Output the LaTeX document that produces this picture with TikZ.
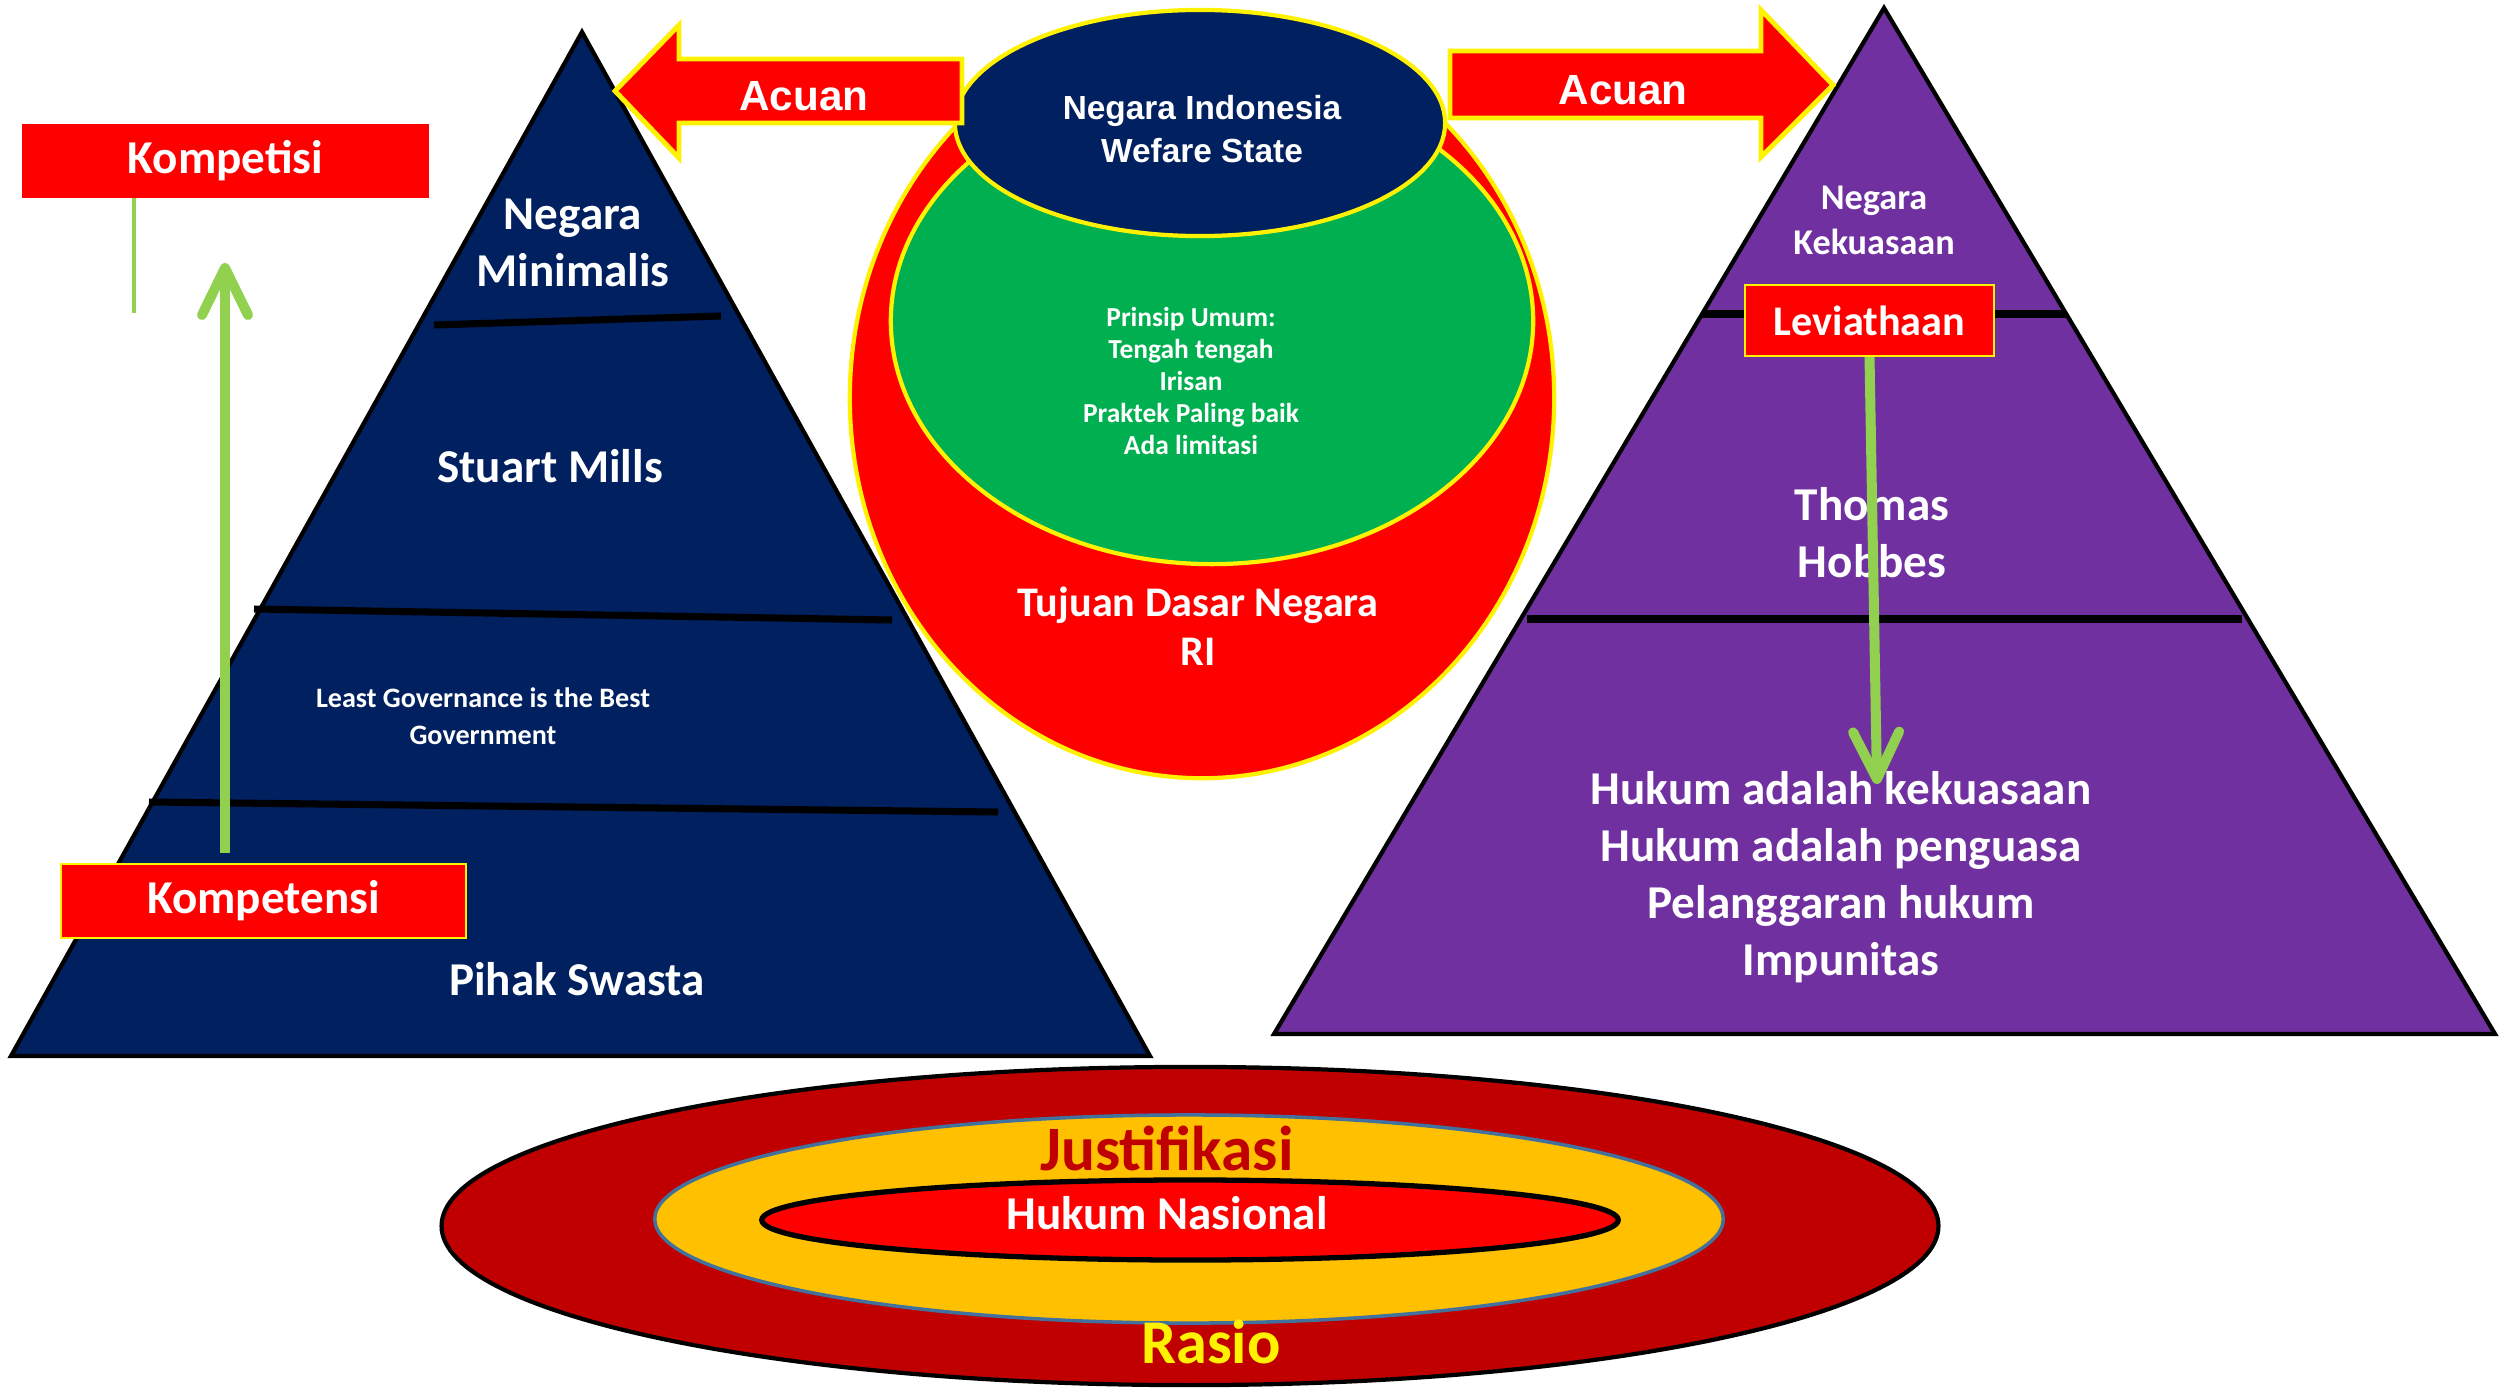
\documentclass[tikz,border=0pt]{standalone}
\usepackage{fontspec}
\setmainfont{Carlito}
\newfontfamily\arialfont{Liberation Sans}
\usepackage{xcolor}
\usepackage{tikz}
\usetikzlibrary{arrows.meta, positioning, calc}

\definecolor{navyfill}{HTML}{002060}
\definecolor{purplefill}{HTML}{7030A0}
\definecolor{greenfill}{HTML}{00B050}
\definecolor{limeline}{HTML}{92D050}
\definecolor{darkredfill}{HTML}{C00000}
\definecolor{goldfill}{HTML}{FFC000}
\definecolor{steelline}{HTML}{41719C}

\begin{document}
\begin{tikzpicture}[
    x=0.01cm, y=-0.01cm,
    big/.style={text=white, font=\fontsize{13.4}{16.2}\selectfont\bfseries, align=center},
    small/.style={text=white, font=\fontsize{8}{10.5}\selectfont\bfseries, align=center},
    tag/.style={fill=red, draw=yellow, line width=0.6pt, inner sep=0pt, minimum height=0.74cm, text=white, font=\fontsize{13.4}{16}\selectfont\bfseries},
    acuan/.style={fill=red, draw=yellow, line width=1.4pt, line join=miter},
    acuantext/.style={text=white, font=\arialfont\bfseries\fontsize{12}{14}\selectfont},
    layer/.style={black, line width=2pt},
    rim/.style={draw=yellow, line width=1.2pt},
    lift/.style={-{Straight Barb[length=4.7mm, width=4.6mm, round]}, limeline, line width=1mm}
]
\useasboundingbox (0,0) rectangle (2501,1388);

% left pyramid
\filldraw[fill=navyfill, draw=black, line width=1.2pt] (582,32) -- (1150,1056) -- (11,1056) -- cycle;
\draw[layer] (434,325) -- (721,316);
\draw[layer] (254,609) -- (892,620);
\draw[layer] (149,802) -- (998,812);
\node[big] (minimalis) at (573,243) {Negara\\Minimalis};
\node[big] (mills) at (550,466) {Stuart Mills};
\node[small] (least) at (483,716) {Least Governance is the Best\\Government};
\node[big] (swasta) at (577,979) {Pihak Swasta};

% right pyramid
\filldraw[fill=purplefill, draw=black, line width=1.2pt] (1884,8) -- (2495,1034) -- (1274,1034) -- cycle;
\draw[layer] (1702,314) -- (2066,314);
\draw[layer] (1527,619) -- (2242,619);
\node[big, font=\fontsize{10.3}{12.8}\selectfont\bfseries] (kekuasaan) at (1874,220) {Negara\\Kekuasaan};
\node[big] (hobbes) at (1872,533) {Thomas\\Hobbes};
\node[big] (hukum) at (1841,877) {Hukum adalah kekuasaan\\Hukum adalah penguasa\\Pelanggaran hukum\\Impunitas};

% centre
\filldraw[fill=red, rim] (1202,398) ellipse [x radius=3.52cm, y radius=3.8cm];
\filldraw[fill=greenfill, rim] (1212,321) ellipse [x radius=3.21cm, y radius=2.43cm];
\filldraw[fill=navyfill, rim] (1200,123) ellipse [x radius=2.45cm, y radius=1.13cm];
\node[text=white, font=\arialfont\bfseries\fontsize{9.5}{12.2}\selectfont, align=center] (welfare) at (1202,129) {Negara Indonesia\\Wefare State};
\node[text=white, font=\fontsize{7.8}{9.1}\selectfont\bfseries, align=center] (prinsip) at (1191,381) {Prinsip Umum:\\Tengah tengah\\Irisan\\Praktek Paling baik\\Ada limitasi};
\node[big, font=\fontsize{12}{14}\selectfont\bfseries] (tujuan) at (1198,626) {Tujuan Dasar Negara\\RI};

\filldraw[acuan] (615,91) -- (679,25) -- (679,59) -- (962,59) -- (962,123) -- (679,123) -- (679,158) -- cycle;
\node[acuantext] (acuanleft) at (804,96) {Acuan};
\filldraw[acuan] (1833,85) -- (1761,10) -- (1761,51) -- (1450,51) -- (1450,118) -- (1761,118) -- (1761,157) -- cycle;
\node[acuantext] (acuanright) at (1623,90) {Acuan};

% tags and arrows
\coordinate (stub) at (134,313);
\coordinate (uptip) at (225,263);
\coordinate (downtip) at (1877,784);
\draw[limeline, line width=0.9pt] (134,125) -- (stub);
\node[tag, draw=none, minimum width=4.07cm] (kompetisi) at (225.5,161) {Kompetisi};
\node[tag, minimum width=4.05cm] (kompetensi) at (263.5,901) {Kompetensi};
\draw[lift, shorten <=1mm] (kompetensi.north -| uptip) -- (uptip);
\node[tag, minimum width=2.49cm, minimum height=0.71cm, font=\fontsize{12}{14}\selectfont\bfseries] (leviathan) at (1869.5,320.5) {Leviathaan};
\draw[lift] (leviathan.south) -- (downtip);

% bottom rings
\filldraw[fill=darkredfill, draw=black, line width=1.2pt] (1190,1226) ellipse [x radius=7.48cm, y radius=1.59cm];
\filldraw[fill=goldfill, draw=steelline, line width=1pt] (1189,1219) ellipse [x radius=5.34cm, y radius=1.04cm];
\filldraw[fill=red, draw=black, line width=1.5pt] (1190,1220) ellipse [x radius=4.28cm, y radius=0.40cm];
\node[text=darkredfill, font=\fontsize{18}{20}\selectfont\bfseries] (justifikasi) at (1167,1148) {Justifikasi};
\node[big] (nasional) at (1167,1213) {Hukum Nasional};
\node[text=yellow, font=\fontsize{17.7}{20}\selectfont\bfseries] (rasio) at (1211,1342) {Rasio};
\end{tikzpicture}
\end{document}
